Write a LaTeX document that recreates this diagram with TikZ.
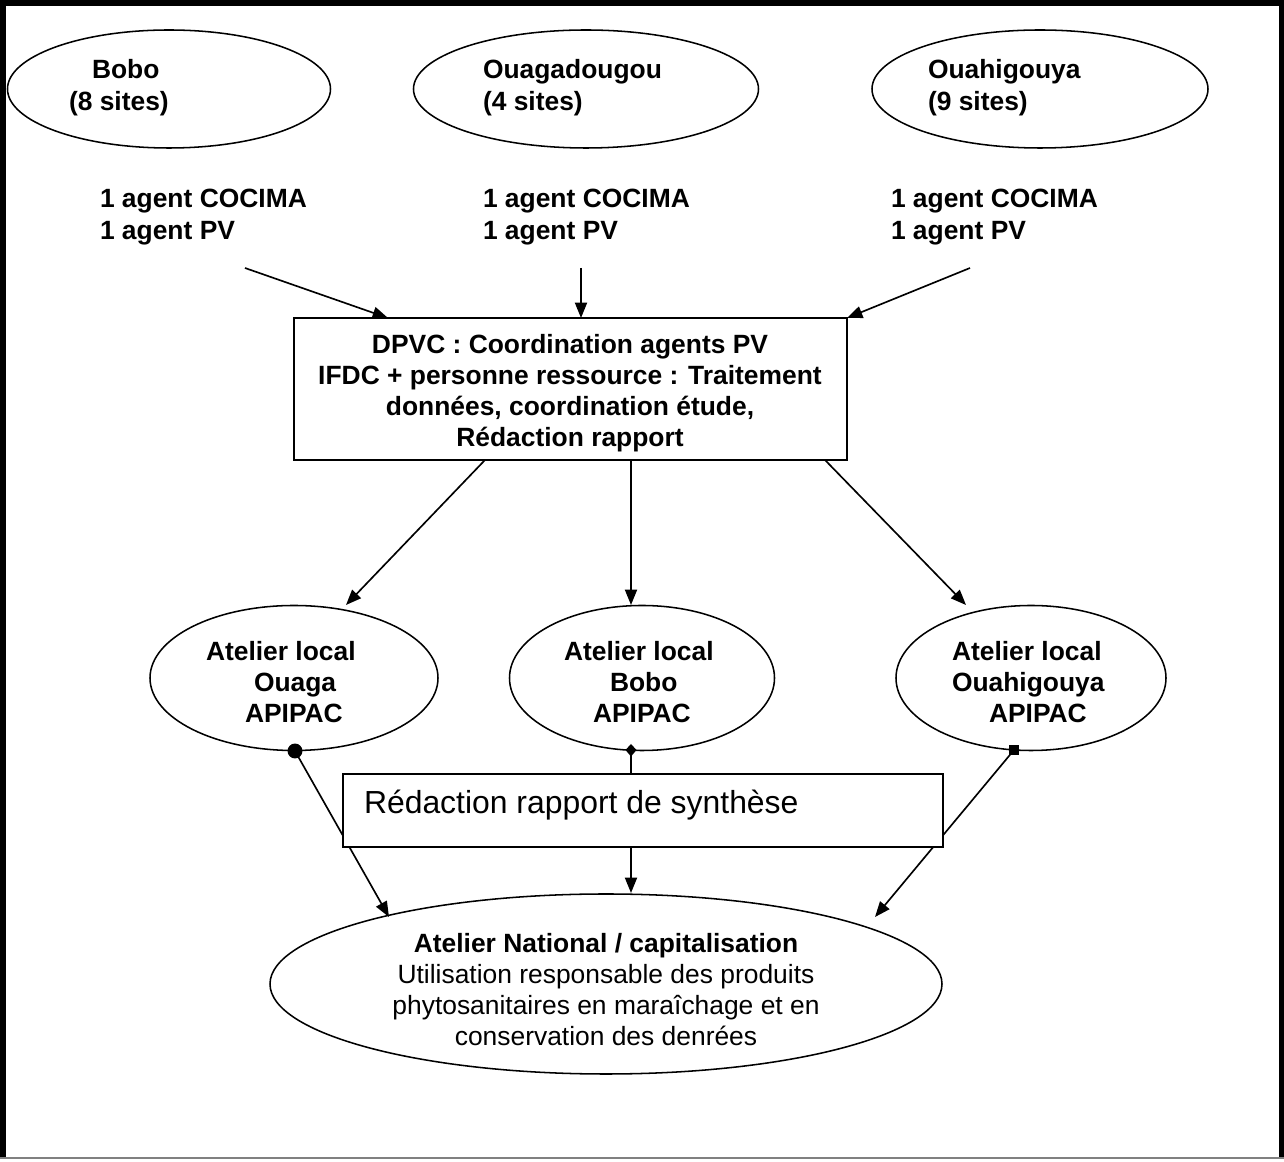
\documentclass[tikz,border=0pt]{standalone}
\usepackage{fontspec}
\setmainfont{Liberation Sans}
\usetikzlibrary{shapes.geometric,arrows.meta}
\def\pu{0.4545pt}
\begin{document}
\begin{tikzpicture}[x=0.4545pt,y=-0.4545pt,
  every node/.style={inner sep=0pt, outer sep=0pt},
  bt/.style={font=\fontsize{12}{14}\selectfont\bfseries, anchor=base west},
  bc/.style={font=\fontsize{12}{14}\selectfont\bfseries, anchor=base},
  rc/.style={font=\fontsize{12}{14}\selectfont, anchor=base},
  rbig/.style={font=\fontsize{14.5}{17}\selectfont, anchor=base west},
  oval/.style={draw, ellipse, line width=0.7pt},
  box/.style={draw, rectangle, line width=0.7pt, fill=white},
  ln/.style={line width=0.75pt},
  arr/.style={line width=0.75pt, -{Triangle[length=7pt,width=5.5pt]}}]
\useasboundingbox (0,0) rectangle (1284,1162);
% frame
\fill[black] (0,0) rectangle (6,1158);
\fill[black] (0,0) rectangle (1284,6);
\fill[black] (1279,0) rectangle (1284,1158);
\draw[gray, line width=0.7pt] (0,1158) -- (1284,1158);

% top ellipses
\node[oval, minimum width=323*\pu, minimum height=118*\pu] (bobo) at (169,89) {};
\node[oval, minimum width=345*\pu, minimum height=118*\pu] (ouaga) at (586,89) {};
\node[oval, minimum width=336*\pu, minimum height=118*\pu] (ouah) at (1040,89) {};
\node[bt] (boboT1) at (92,79) {Bobo};
\node[bt] (boboT2) at (69,111) {(8 sites)};
\node[bt] (ouagaT1) at (483,79) {Ouagadougou};
\node[bt] (ouagaT2) at (483,111) {(4 sites)};
\node[bt] (ouahT1) at (928,79) {Ouahigouya};
\node[bt] (ouahT2) at (928,111) {(9 sites)};

% agents
\node[bt] (agA1) at (100,208) {1 agent COCIMA};
\node[bt] (agA2) at (100,240) {1 agent PV};
\node[bt] (agB1) at (483,208) {1 agent COCIMA};
\node[bt] (agB2) at (483,240) {1 agent PV};
\node[bt] (agC1) at (891,208) {1 agent COCIMA};
\node[bt] (agC2) at (891,240) {1 agent PV};

% DPVC box
\node[box, minimum width=553*\pu, minimum height=142*\pu] (dpvc) at (570.5,389) {};
\node[bc] (d1) at (570,354) {DPVC : Coordination agents PV};
\node[bc] (d2) at (570,385) {IFDC + personne ressource : Traitement};
\node[bc] (d3) at (570,416) {données, coordination étude,};
\node[bc] (d4) at (570,447) {Rédaction rapport};

\coordinate (sA) at (245,268);
\coordinate (sB) at (581,268);
\coordinate (sC) at (970,268);
\coordinate (tA) at (388,318);
\coordinate (tB) at (581,318);
\coordinate (tC) at (847,318);
\draw[arr] (sA) -- (tA);
\draw[arr] (sB) -- (tB);
\draw[arr] (sC) -- (tC);

% atelier ellipses
\node[oval, minimum width=288*\pu, minimum height=145*\pu] (atO) at (294,678) {};
\node[oval, minimum width=265*\pu, minimum height=145*\pu] (atB) at (642,678) {};
\node[oval, minimum width=270*\pu, minimum height=145*\pu] (atH) at (1031,678) {};
\node[bt] (aO1) at (206,661) {Atelier local};
\node[bt] (aO2) at (254,692) {Ouaga};
\node[bt] (aO3) at (245,723) {APIPAC};
\node[bt] (aB1) at (564,661) {Atelier local};
\node[bt] (aB2) at (610,692) {Bobo};
\node[bt] (aB3) at (593,723) {APIPAC};
\node[bt] (aH1) at (952,661) {Atelier local};
\node[bt] (aH2) at (952,692) {Ouahigouya};
\node[bt] (aH3) at (989,723) {APIPAC};

\coordinate (dA) at (485,460);
\coordinate (dB) at (631,460);
\coordinate (dC) at (825,460);
\coordinate (eA) at (346,605);
\coordinate (eB) at (631,605);
\coordinate (eC) at (966,605);
\draw[arr] (dA) -- (eA);
\draw[arr] (dB) -- (eB);
\draw[arr] (dC) -- (eC);

% national ellipse
\node[oval, minimum width=672*\pu, minimum height=180*\pu] (nat) at (606,984) {};
\node[bc] (n1) at (606,953) {Atelier National / capitalisation};
\node[rc] (n2) at (606,984) {Utilisation responsable des produits};
\node[rc] (n3) at (606,1015) {phytosanitaires en maraîchage et en};
\node[rc] (n4) at (606,1046) {conservation des denrées};

% markers and connectors
\coordinate (mO) at (295,751);
\coordinate (mB) at (631,750);
\coordinate (mH) at (1014,750);
\coordinate (fO) at (389,917);
\coordinate (fH) at (875,917);
\coordinate (fB) at (631,893);
\draw[arr] (mO) -- (fO);
\draw[arr] (mH) -- (fH);
\draw[ln] (mB) -- (631,774);

% synthesis box
\node[box, minimum width=600*\pu, minimum height=73*\pu] (syn) at (643,810.5) {};
\node[rbig] (synT) at (364,814) {Rédaction rapport de synthèse};
\draw[arr] (syn.south -| mB) -- (fB);

\fill (mO) circle[radius=3.4pt];
\fill (631,744) -- (636.5,750) -- (631,756.5) -- (625.5,750) -- cycle;
\fill (1009,745) rectangle (1019,755);
\end{tikzpicture}
\end{document}
